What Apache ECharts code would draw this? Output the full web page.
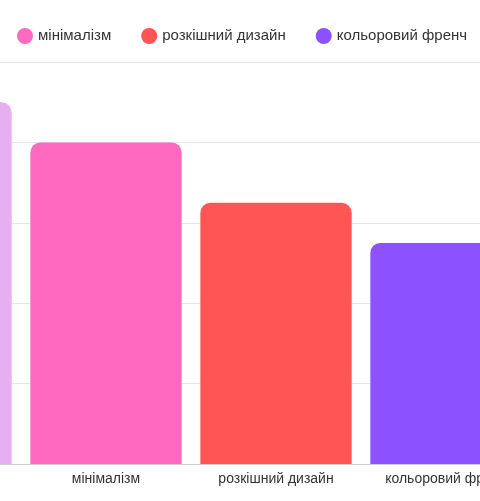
<!DOCTYPE html><html><head><meta charset="utf-8"><script src="https://cdn.jsdelivr.net/npm/echarts@6/dist/echarts.min.js"></script>
<style>html,body{margin:0;padding:0;overflow:hidden;width:480px;height:501px}#c{width:680px;height:501px;margin-left:-149px}</style></head><body><div id="c"></div><script>
const categories=['мінімалістичний','мінімалізм','розкішний дизайн','кольоровий френч'];
const seriesNames=['мінімалістичний','мінімалізм','розкішний дизайн','кольоровий френч'];
const values=[4.5,4.0,3.25,2.75];
const colors=['#e6b0f0','#ff69c0','#ff5555','#8c52ff'];
const chart=echarts.init(document.getElementById('c'));
chart.setOption({
 animation:false,
 legend:{data:seriesNames.slice(1),left:161,top:23,icon:'circle',itemWidth:16,itemHeight:16,itemGap:30,textStyle:{fontSize:15,color:'#333',fontFamily:'Liberation Sans'}},
 grid:{left:0,right:0,top:62,bottom:37},
 xAxis:{type:'category',data:categories,axisTick:{show:false},axisLine:{lineStyle:{color:'#ccc'}},axisLabel:{interval:0,fontSize:14,color:'#333',fontFamily:'Liberation Sans',margin:8}},
 yAxis:{type:'value',min:0,max:5,interval:1,axisLabel:{show:false},splitLine:{lineStyle:{color:'#e6e6e6'}}},
 series:seriesNames.map((n,i)=>({name:n,type:'bar',barWidth:'89%',barGap:'-100%',itemStyle:{color:colors[i],borderRadius:[10,10,0,0]},
  data:values.map((v,j)=>j===i?v:null)}))
});
</script></body></html>
